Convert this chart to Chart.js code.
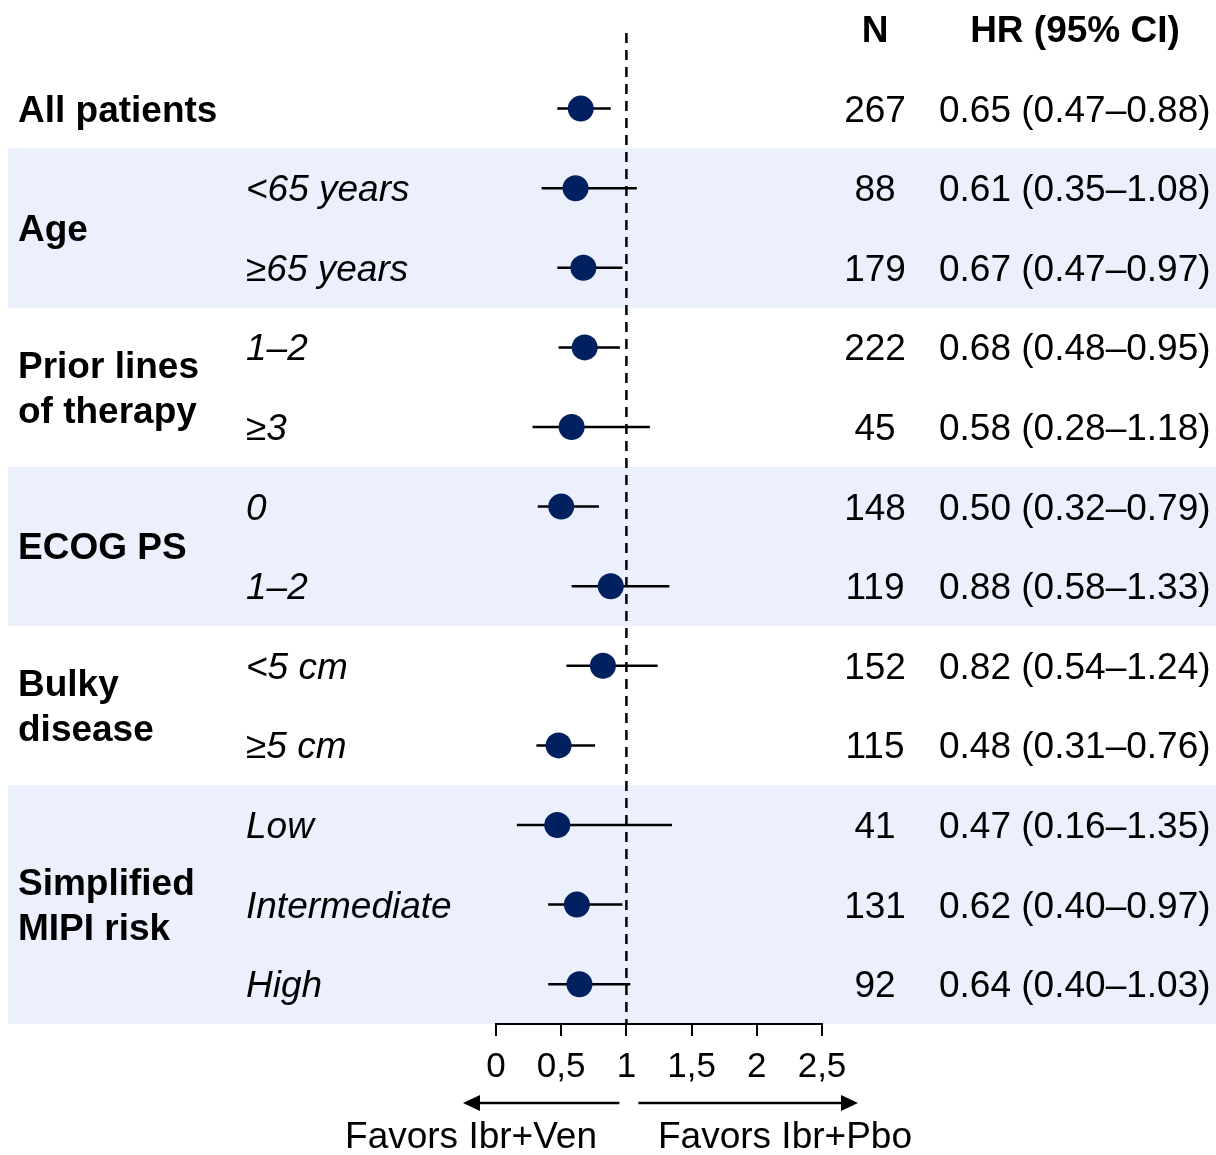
<!DOCTYPE html>
<html>
<head>
<meta charset="utf-8">
<script src="https://cdn.jsdelivr.net/npm/chart.js@4.4.1/dist/chart.umd.min.js"></script>
<style>
  html, body { margin: 0; padding: 0; background: #ffffff; }
  #wrap { width: 1216px; height: 1155px; position: relative; }
</style>
</head>
<body>
<div id="wrap"><canvas id="c" width="1216" height="1155"></canvas></div>
<script>
// ---------------- DATA ----------------
const groupLabels = ['All patients', 'Age', 'Prior lines\nof therapy', 'ECOG PS', 'Bulky\ndisease', 'Simplified\nMIPI risk'];
const groupFirstRow = [0, 1, 3, 5, 7, 9];
const groupLastRow  = [0, 2, 4, 6, 8, 11];
const groupShaded   = [false, true, false, true, false, true];
const subgroupLabels = ['', '<65 years', '≥65 years', '1–2', '≥3', '0', '1–2', '<5 cm', '≥5 cm', 'Low', 'Intermediate', 'High'];
const nPatients = [267, 88, 179, 222, 45, 148, 119, 152, 115, 41, 131, 92];
const hazardRatio = [0.65, 0.61, 0.67, 0.68, 0.58, 0.50, 0.88, 0.82, 0.48, 0.47, 0.62, 0.64];
const ciLower = [0.47, 0.35, 0.47, 0.48, 0.28, 0.32, 0.58, 0.54, 0.31, 0.16, 0.40, 0.40];
const ciUpper = [0.88, 1.08, 0.97, 0.95, 1.18, 0.79, 1.33, 1.24, 0.76, 1.35, 0.97, 1.03];
const tickValues = [0, 0.5, 1, 1.5, 2, 2.5];
const tickLabels = ['0', '0,5', '1', '1,5', '2', '2,5'];
const referenceHR = 1;
const headerN = 'N';
const headerHR = 'HR (95% CI)';
const favorsLeft = 'Favors Ibr+Ven';
const favorsRight = 'Favors Ibr+Pbo';

// ---------------- BUILD ----------------
const FONT = '"Liberation Sans", Arial, Helvetica, sans-serif';
const rows = hazardRatio.length;
const yTop = -0.95, yBottom = rows - 0.5;

const pointData = hazardRatio.map((v, i) => ({ x: v, y: i }));
const ciData = [];
ciLower.forEach((lo, i) => {
  ciData.push({ x: lo, y: i }, { x: ciUpper[i], y: i }, { x: null, y: null });
});
const refData = [{ x: referenceHR, y: yTop }, { x: referenceHR, y: yBottom }];

const fmt = v => v.toFixed(2);

const forestPlugin = {
  id: 'forest',
  beforeDraw(chart) {
    const { ctx, scales: { y } } = chart;
    ctx.save();
    ctx.fillStyle = '#ffffff';
    ctx.fillRect(0, 0, chart.width, chart.height);
    ctx.fillStyle = '#ECEFFC';
    groupLabels.forEach((g, gi) => {
      if (!groupShaded[gi]) return;
      const t = y.getPixelForValue(groupFirstRow[gi] - 0.5);
      const b = y.getPixelForValue(groupLastRow[gi] + 0.5);
      ctx.fillRect(8, t, chart.width - 8, b - t);
    });
    ctx.restore();
  },
  afterDraw(chart) {
    const { ctx, scales: { x, y } } = chart;
    ctx.save();
    ctx.fillStyle = '#000';
    ctx.textBaseline = 'alphabetic';
    const off = 13;
    // group labels
    ctx.font = 'bold 37px ' + FONT;
    ctx.textAlign = 'left';
    groupLabels.forEach((g, gi) => {
      const cy = (y.getPixelForValue(groupFirstRow[gi]) + y.getPixelForValue(groupLastRow[gi])) / 2;
      const lines = g.split('\n');
      lines.forEach((ln, li) => {
        ctx.fillText(ln, 18, cy + (li - (lines.length - 1) / 2) * 45 + off);
      });
    });
    // subgroup labels
    ctx.font = 'italic 37px ' + FONT;
    subgroupLabels.forEach((s, i) => {
      if (s) ctx.fillText(s, 246, y.getPixelForValue(i) + off);
    });
    // N and HR columns
    ctx.font = '37px ' + FONT;
    nPatients.forEach((n, i) => {
      const cy = y.getPixelForValue(i) + off;
      ctx.textAlign = 'center';
      ctx.fillText(String(n), 875, cy);
      ctx.textAlign = 'left';
      ctx.fillText(fmt(hazardRatio[i]) + ' (' + fmt(ciLower[i]) + '–' + fmt(ciUpper[i]) + ')', 939, cy);
    });
    // headers
    ctx.font = 'bold 37px ' + FONT;
    ctx.textAlign = 'center';
    ctx.fillText(headerN, 875, 42);
    ctx.fillText(headerHR, 1075, 42);
    // arrows
    const ay = 1103;
    const ref = x.getPixelForValue(referenceHR);
    ctx.strokeStyle = '#000';
    ctx.lineWidth = 2.5;
    ctx.beginPath();
    ctx.moveTo(ref - 7, ay); ctx.lineTo(476, ay);
    ctx.moveTo(ref + 12, ay); ctx.lineTo(845, ay);
    ctx.stroke();
    ctx.beginPath();
    ctx.moveTo(463, ay); ctx.lineTo(480, ay - 8); ctx.lineTo(480, ay + 8); ctx.closePath();
    ctx.moveTo(858, ay); ctx.lineTo(841, ay - 8); ctx.lineTo(841, ay + 8); ctx.closePath();
    ctx.fill();
    ctx.font = '37px ' + FONT;
    ctx.fillText(favorsLeft, 471, 1148);
    ctx.fillText(favorsRight, 785, 1148);
    ctx.restore();
  }
};

new Chart(document.getElementById('c'), {
  type: 'scatter',
  data: {
    datasets: [
      {
        label: 'HR',
        data: pointData,
        backgroundColor: '#002060',
        borderWidth: 0,
        pointRadius: 13,
        pointHoverRadius: 13,
        order: 0,
        clip: false
      },
      {
        label: 'CI',
        data: ciData,
        showLine: true,
        spanGaps: false,
        borderColor: '#000',
        borderWidth: 2.5,
        pointRadius: 0,
        pointHoverRadius: 0,
        order: 1,
        clip: false
      },
      {
        label: 'ref',
        data: refData,
        showLine: true,
        borderColor: '#000',
        borderWidth: 2.5,
        borderDash: [10, 7],
        pointRadius: 0,
        pointHoverRadius: 0,
        order: 2,
        clip: false
      }
    ]
  },
  options: {
    responsive: false,
    animation: false,
    events: [],
    layout: { padding: { left: 496, right: 394, top: 33, bottom: 57 } },
    plugins: { legend: { display: false }, tooltip: { enabled: false } },
    scales: {
      x: {
        type: 'linear',
        min: tickValues[0],
        max: tickValues[tickValues.length - 1],
        afterBuildTicks: s => { s.ticks = tickValues.map(v => ({ value: v })); },
        border: { display: true, color: '#000', width: 2 },
        grid: { drawOnChartArea: false, drawTicks: true, tickLength: 12, color: '#000', lineWidth: 2 },
        ticks: {
          padding: 10,
          color: '#000',
          font: { family: FONT, size: 35 },
          maxRotation: 0,
          autoSkip: false,
          callback: (v, i) => tickLabels[i]
        }
      },
      y: {
        type: 'linear',
        reverse: true,
        min: yTop,
        max: yBottom,
        display: false
      }
    }
  },
  plugins: [forestPlugin]
});
</script>
</body>
</html>
